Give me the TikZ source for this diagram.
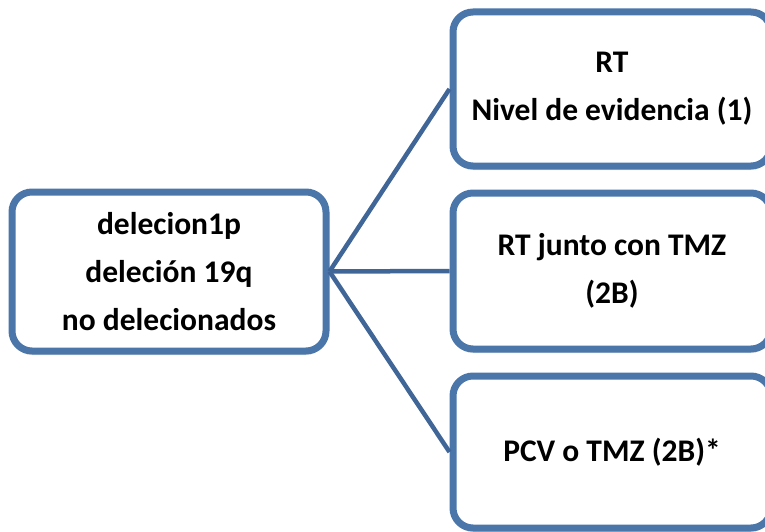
\documentclass[tikz,border=0pt]{standalone}
\usepackage{fontspec}
\setmainfont{Carlito}
\usetikzlibrary{shadows}
\definecolor{boxblue}{RGB}{74,118,170}
\definecolor{lineblue}{RGB}{64,102,152}
\tikzset{
    optbox/.style={draw=boxblue, line width=7pt, rounded corners=20pt, fill=white,
        align=center, inner sep=0pt, font=\fontsize{31.5}{48}\selectfont\bfseries,
        drop shadow={opacity=0.25, shadow xshift=0pt, shadow yshift=-4pt}},
    branch/.style={draw=lineblue, line width=4.5pt}
}
\begin{document}
\begin{tikzpicture}[x=1pt,y=-1pt]
        \useasboundingbox (0,0) rectangle (765,532);
        \node[optbox, minimum width=314pt, minimum height=159pt] (del) at (169,271.5) {delecion1p\\deleción 19q\\no delecionados};
        \node[optbox, minimum width=318pt, minimum height=154pt] (rt) at (612,89) {RT\\Nivel de evidencia (1)};
        \node[optbox, minimum width=318pt, minimum height=156pt] (tmz) at (612,271) {RT junto con TMZ\\(2B)};
        \node[optbox, minimum width=318pt, minimum height=152pt] (pcv) at (612,452) {PCV o TMZ (2B)*};

        \draw[branch] (del.east) -- (rt.west);
        \draw[branch] (del.east) -- (tmz.west);
        \draw[branch] (del.east) -- (pcv.west);
    \end{tikzpicture}
\end{document}
